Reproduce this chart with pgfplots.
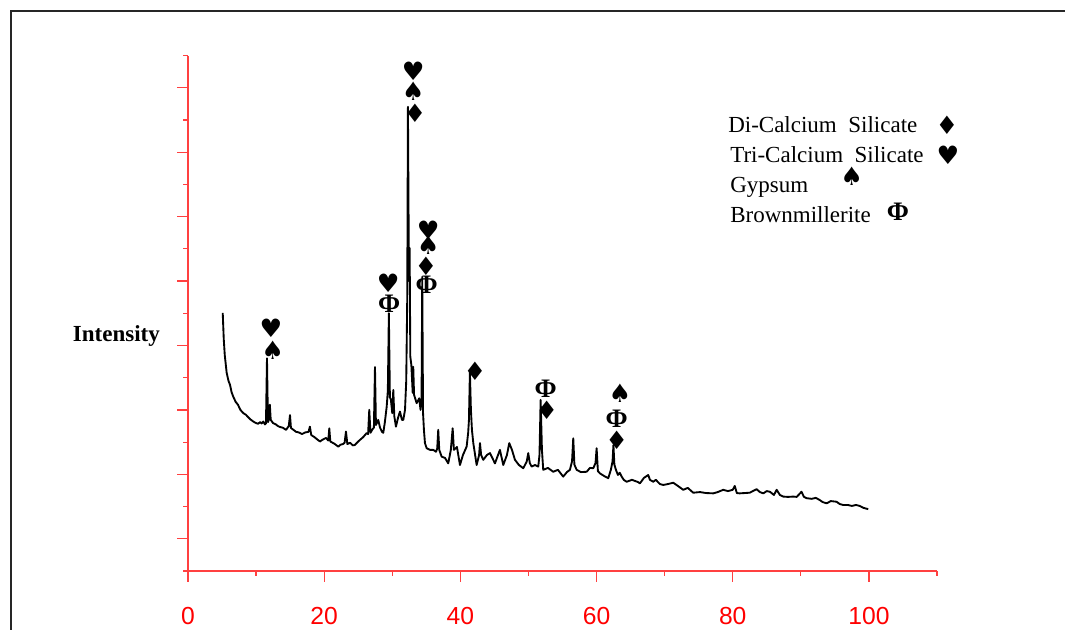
\documentclass[border=0pt]{standalone}
\usepackage{pgfplots}
\pgfplotsset{compat=1.18}
\usepackage{fontspec}
\setmainfont{Liberation Serif}
\newfontfamily\arial{Liberation Sans}
\newfontfamily\sym{DejaVu Sans}
\pgfplotstableread{
x y
5.10 8.01
5.25 7.20
5.40 6.70
5.68 6.15
5.95 5.90
6.17 5.78
6.40 5.55
6.65 5.41
7.00 5.25
7.34 5.16
7.70 5.00
8.12 4.90
8.50 4.85
8.81 4.78
9.20 4.70
9.59 4.64
9.90 4.60
10.28 4.57
10.60 4.62
10.80 4.58
11.06 4.64
11.30 4.55
11.45 4.58
11.60 6.60
11.74 4.62
11.88 4.70
12.02 5.16
12.15 4.69
12.50 4.59
12.90 4.55
13.20 4.50
13.50 4.47
13.90 4.45
14.40 4.38
14.80 4.50
14.98 4.84
15.12 4.44
15.50 4.38
15.86 4.32
16.30 4.30
16.74 4.25
17.20 4.30
17.70 4.32
17.90 4.48
18.10 4.22
18.60 4.15
19.00 4.08
19.38 4.02
19.80 4.08
20.26 4.13
20.60 4.05
20.75 4.43
20.90 4.02
21.50 3.95
22.07 3.86
22.40 3.92
22.76 3.94
23.00 3.98
23.20 4.33
23.40 3.94
23.80 3.98
24.20 3.90
24.50 3.91
24.90 4.00
25.26 4.07
25.70 4.15
26.24 4.28
26.45 4.25
26.62 5.00
26.80 4.29
27.10 4.40
27.30 4.45
27.46 6.33
27.60 4.53
27.94 4.69
28.20 4.45
28.50 4.32
28.68 4.29
28.90 4.60
29.18 5.10
29.35 5.60
29.50 8.00
29.65 5.40
29.80 5.31
30.00 4.90
30.15 5.62
30.30 4.80
30.54 4.48
30.84 4.75
31.13 4.95
31.42 4.69
31.62 4.69
31.87 5.00
32.05 5.90
32.20 8.50
32.30 14.41
32.45 9.00
32.55 10.03
32.65 6.65
32.80 6.40
33.00 5.53
33.08 6.34
33.20 5.47
33.58 5.21
33.96 5.36
34.15 5.00
34.30 5.30
34.40 9.13
34.52 4.90
34.65 4.38
34.80 3.97
35.05 3.81
35.54 3.76
36.02 3.76
36.42 3.70
36.60 3.80
36.75 4.38
36.90 3.76
37.25 3.55
37.74 3.51
38.22 3.34
38.60 3.76
38.87 4.43
39.05 3.76
39.50 3.85
39.94 3.29
40.38 3.60
40.92 3.86
41.15 4.30
41.26 4.69
41.40 6.18
41.55 5.00
41.70 4.38
41.90 3.97
42.39 3.29
42.75 3.60
42.88 3.97
43.05 3.60
43.36 3.45
43.90 3.60
44.35 3.66
45.08 3.34
45.81 3.76
46.30 3.29
46.84 3.60
47.18 3.97
47.58 3.76
48.02 3.45
48.60 3.29
49.24 3.19
49.75 3.40
49.97 3.66
50.20 3.35
50.47 3.24
50.95 3.29
51.44 3.24
51.62 3.60
51.79 5.31
51.98 3.76
52.17 3.14
52.86 3.20
53.64 3.08
54.33 3.14
55.10 2.93
55.65 3.07
56.09 3.14
56.40 3.40
56.58 4.12
56.75 3.30
57.08 3.14
57.70 3.07
58.55 3.08
59.03 3.20
59.52 3.19
59.85 3.35
60.01 3.81
60.20 3.10
60.50 3.03
61.10 2.95
61.72 2.88
62.10 3.14
62.35 3.40
62.48 3.91
62.62 3.30
62.85 3.14
63.14 2.98
63.40 3.05
63.69 2.93
64.00 2.83
64.42 2.77
65.20 2.83
66.10 2.76
66.37 2.72
66.96 2.89
67.59 2.98
67.84 2.83
68.33 2.77
68.70 2.83
69.30 2.70
69.79 2.67
70.50 2.70
71.26 2.74
71.95 2.64
72.73 2.52
73.40 2.58
74.20 2.43
75.20 2.45
76.06 2.42
77.14 2.41
77.80 2.45
78.60 2.52
79.30 2.48
80.00 2.52
80.30 2.64
80.60 2.42
81.00 2.41
81.80 2.42
82.50 2.43
83.50 2.54
83.99 2.45
84.50 2.41
85.00 2.48
85.46 2.46
86.05 2.36
86.45 2.52
86.93 2.36
87.40 2.31
88.10 2.30
88.90 2.31
89.40 2.30
90.10 2.46
90.46 2.30
90.85 2.26
91.60 2.24
92.20 2.27
92.80 2.20
93.20 2.14
93.80 2.10
94.40 2.17
95.25 2.15
95.70 2.08
96.20 2.05
96.90 2.05
97.50 2.02
98.10 2.05
98.65 2.02
99.20 1.96
99.90 1.92
}\xrd
\begin{document}
\begin{tikzpicture}
\begin{axis}[
  at={(141pt,-428.25pt)}, anchor=south west,
  scale only axis, width=561.75pt, height=386.6pt,
  xmin=0, xmax=110, ymin=0, ymax=16,
  axis x line=bottom, axis y line=left,
  axis line style={-, red!75, line width=0.9pt},
  xtick={0,20,...,100}, minor xtick={10,30,...,110},
  ytick={1,3,...,15}, minor ytick={0,2,...,16},
  yticklabels={},
  tick align=outside,
  major tick length=8pt, minor tick length=3.75pt,
  every tick/.style={red!75, line width=0.9pt},
  every minor tick/.style={red!75, line width=0.9pt},
  xticklabel style={font=\arial\fontsize{18.5}{20}\selectfont, text=red, yshift=-16pt},
  /pgf/number format/assume math mode=true,
  clip=false,
]
\addplot[black, line width=1.4pt, line join=round] table[x=x, y=y] {\xrd};
\end{axis}
\begin{scope}[x=0.75pt, y=-0.75pt]
\path[use as bounding box] (0,0) rectangle (1065,630);
\draw[line width=1.2pt, black!85] (11,630) -- (11,11) -- (1065,11);
\node[anchor=base west, inner sep=0pt, font=\bfseries\fontsize{17.25}{20}\selectfont] at (72.7,342) {Intensity};
\begin{scope}[every node/.style={anchor=base west, inner sep=0pt, font=\fontsize{17.25}{20}\selectfont}]
\node at (728,133) {Di-Calcium\ \ Silicate};
\node at (730,163) {Tri-Calcium\ \ Silicate};
\node at (730,193) {Gypsum};
\node at (730,222.5) {Brownmillerite};
\end{scope}
\begin{scope}[every node/.style={inner sep=0pt, font=\sym\fontsize{19}{19}\selectfont}]
\node at (947,125) {♦};
\node at (948,155) {♥};
\node at (851.7,176.7) {♠};
\node at (271,328.3) {♥};
\node at (272.7,350) {♠};
\node at (388.3,283.3) {♥};
\node at (413.3,71.7) {♥};
\node at (413.3,91.7) {♠};
\node at (415,113.3) {♦};
\node at (428.3,230) {♥};
\node at (428.3,245) {♠};
\node at (426,266) {♦};
\node at (475,371.7) {♦};
\node at (546.7,410) {♦};
\node at (620,393.3) {♠};
\node at (616.7,440) {♦};
\end{scope}
\begin{scope}[every node/.style={inner sep=0pt, font=\bfseries\fontsize{20}{20}\selectfont}]
\node at (898,211.7) {Φ};
\node at (389.3,303.3) {Φ};
\node at (426.7,285) {Φ};
\node at (545.7,388.3) {Φ};
\node at (616.7,418.3) {Φ};
\end{scope}
\end{scope}
\end{tikzpicture}
\end{document}
